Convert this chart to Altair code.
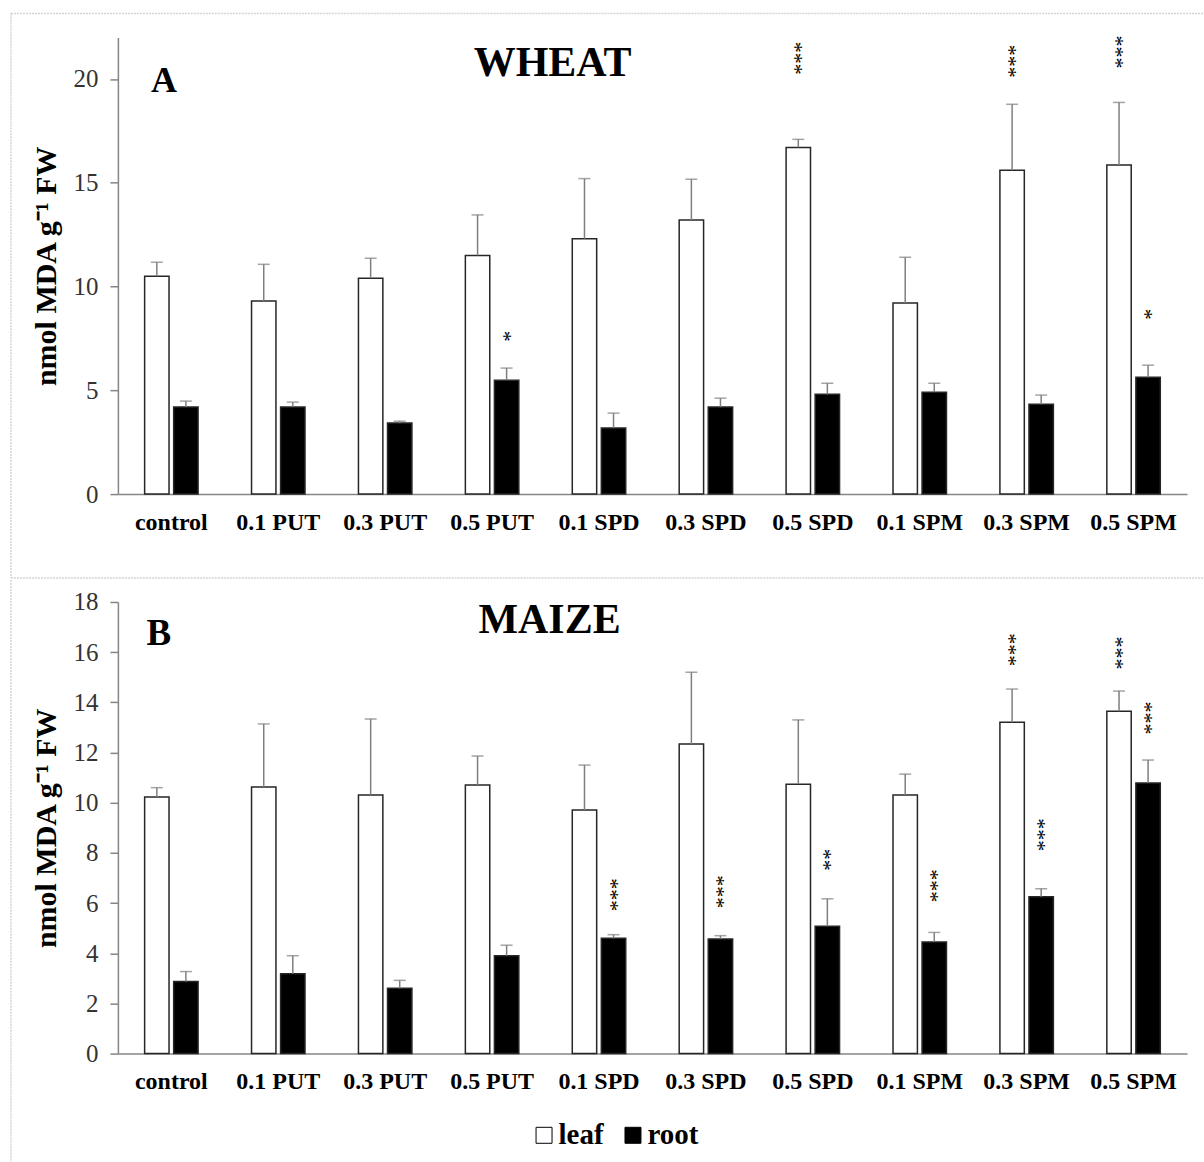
import altair as alt
import pandas as pd

SERIF = "Liberation Serif"

categories = ["control", "0.1 PUT", "0.3 PUT", "0.5 PUT", "0.1 SPD",
              "0.3 SPD", "0.5 SPD", "0.1 SPM", "0.3 SPM", "0.5 SPM"]
parts = ["leaf", "root"]

# Panel A - wheat
wheat_leaf = [10.5, 9.3, 10.4, 11.5, 12.3, 13.2, 16.7, 9.2, 15.6, 15.85]
wheat_leaf_err = [0.67, 1.77, 0.96, 1.95, 2.9, 1.97, 0.39, 2.21, 3.18, 3.02]
wheat_root = [4.19, 4.19, 3.42, 5.49, 3.18, 4.19, 4.81, 4.91, 4.33, 5.63]
wheat_root_err = [0.29, 0.24, 0.09, 0.58, 0.72, 0.43, 0.53, 0.43, 0.44, 0.58]
wheat_leaf_sig = ["", "", "", "", "", "", "***", "", "***", "***"]
wheat_leaf_sig_y = [0, 0, 0, 0, 0, 0, 21.0, 0, 20.85, 21.3]
wheat_root_sig = ["", "", "", "*", "", "", "", "", "", "*"]
wheat_root_sig_y = [0, 0, 0, 7.6, 0, 0, 0, 0, 0, 8.67]

# Panel B - maize
maize_leaf = [10.23, 10.63, 10.31, 10.71, 9.71, 12.34, 10.74, 10.31, 13.21, 13.65]
maize_leaf_err = [0.37, 2.51, 3.03, 1.15, 1.79, 2.86, 2.56, 0.83, 1.32, 0.8]
maize_root = [2.87, 3.18, 2.6, 3.9, 4.6, 4.57, 5.08, 4.45, 6.25, 10.79]
maize_root_err = [0.4, 0.72, 0.32, 0.42, 0.14, 0.13, 1.09, 0.38, 0.32, 0.91]
maize_leaf_sig = ["", "", "", "", "", "", "", "", "***", "***"]
maize_leaf_sig_y = [0, 0, 0, 0, 0, 0, 0, 0, 16.1, 15.97]
maize_root_sig = ["", "", "", "", "***", "***", "**", "***", "***", "***"]
maize_root_sig_y = [0, 0, 0, 0, 6.33, 6.45, 7.73, 6.69, 8.72, 13.38]

panel_names = ["WHEAT", "MAIZE"]
panel_letters = ["A", "B"]
y_titles = ["nmol MDA  g\u207b\u00b9 FW", "nmol MDA g\u207b\u00b9 FW"]

PLOT_W = 1070
GRAY = "#868686"


def rule(x, x2, y, y2):
    return alt.Chart(pd.DataFrame({"f": [0]})).mark_rule(
        color="#d4d4d4", strokeWidth=1.5, strokeDash=[2, 1]
    ).encode(x=alt.value(x), x2=alt.value(x2), y=alt.value(y), y2=alt.value(y2))


def panel(leaf, leaf_err, root, root_err, lsig, lsig_y, rsig, rsig_y,
          ymax, yticks, ytitle, name, letter, height, frames,
          name_pos, letter_pos, letter_size):
    rows, sig_rows = [], []
    for i, c in enumerate(categories):
        rows.append(dict(cat=c, part="leaf", val=leaf[i], top=leaf[i] + leaf_err[i]))
        rows.append(dict(cat=c, part="root", val=root[i], top=root[i] + root_err[i]))
        if lsig[i]:
            sig_rows.append(dict(cat=c, part="leaf", sig=lsig[i], sy=lsig_y[i]))
        if rsig[i]:
            sig_rows.append(dict(cat=c, part="root", sig=rsig[i], sy=rsig_y[i]))
    df = pd.DataFrame(rows)
    sdf = pd.DataFrame(sig_rows)

    x = alt.X("cat:N", sort=categories,
              scale=alt.Scale(paddingInner=0.5, paddingOuter=0.25),
              axis=alt.Axis(title=None, labelAngle=0, ticks=False,
                            labelFont=SERIF, labelFontWeight="bold",
                            labelFontSize=24, labelColor="black",
                            labelPadding=16, domainColor=GRAY, domainWidth=1.5))
    xo = alt.XOffset("part:N", sort=parts,
                     scale=alt.Scale(paddingInner=0.16, paddingOuter=0))
    yscale = alt.Scale(domain=[0, ymax], nice=False)
    yaxis = alt.Axis(values=yticks, title=ytitle, grid=False, tickSize=8,
                     tickColor=GRAY, tickWidth=1.5, domainColor=GRAY,
                     domainWidth=1.5, labelFont=SERIF, labelFontSize=25,
                     labelColor="#333333", labelPadding=12, titleFont=SERIF,
                     titleFontSize=30, titleFontWeight="bold",
                     titleColor="black", titlePadding=11)

    color = alt.Color("part:N", scale=alt.Scale(domain=parts, range=["white", "black"]),
                      legend=alt.Legend(title=None, orient="none", legendX=412,
                                        legendY=1084, direction="horizontal",
                                        symbolType="square", symbolSize=256,
                                        symbolStrokeColor="black",
                                        symbolStrokeWidth=1, labelFont=SERIF,
                                        labelFontSize=29, labelFontWeight="bold",
                                        labelColor="black", labelOffset=0,
                                        columnPadding=14, padding=0))

    bars = alt.Chart(df).mark_bar(stroke="#262626", strokeWidth=1.5).encode(
        x=x, xOffset=xo, y=alt.Y("val:Q", scale=yscale, axis=yaxis), color=color)
    errs = alt.Chart(df).mark_rule(color="#7f7f7f", strokeWidth=1.5).encode(
        x=x, xOffset=xo, y=alt.Y("val:Q", scale=yscale, axis=yaxis), y2="top:Q")
    caps = alt.Chart(df).mark_tick(color="#7f7f7f", thickness=1.5, size=12).encode(
        x=x, xOffset=xo, y=alt.Y("top:Q", scale=yscale, axis=yaxis))
    sigs = alt.Chart(sdf).mark_text(angle=90, font=SERIF, fontSize=22,
                                    color="black", dy=3).encode(
        x=x, xOffset=xo, y=alt.Y("sy:Q", scale=yscale, axis=yaxis), text="sig:N")
    ttl = alt.Chart(pd.DataFrame({"t": [name]})).mark_text(
        font=SERIF, fontSize=42, fontWeight="bold", baseline="alphabetic",
        align="center", color="black").encode(
        x=alt.value(name_pos[0]), y=alt.value(name_pos[1]), text="t:N")
    let = alt.Chart(pd.DataFrame({"t": [letter]})).mark_text(
        font=SERIF, fontSize=letter_size, fontWeight="bold", baseline="alphabetic",
        align="center", color="black").encode(
        x=alt.value(letter_pos[0]), y=alt.value(letter_pos[1]), text="t:N")

    layers = [rule(*f) for f in frames] + [bars, errs, caps, sigs, ttl, let]
    return alt.layer(*layers).properties(width=PLOT_W, height=height)


panelA = panel(wheat_leaf, wheat_leaf_err, wheat_root, wheat_root_err,
               wheat_leaf_sig, wheat_leaf_sig_y, wheat_root_sig, wheat_root_sig_y,
               22, [0, 5, 10, 15, 20], y_titles[0], panel_names[0], panel_letters[0],
               457,
               [(-107, 1086, -24, -24), (-107, -107, -24, 541), (-107, 1086, 541, 541)],
               (435, 39), (46, 55), 36)

panelB = panel(maize_leaf, maize_leaf_err, maize_root, maize_root_err,
               maize_leaf_sig, maize_leaf_sig_y, maize_root_sig, maize_root_sig_y,
               18, [0, 2, 4, 6, 8, 10, 12, 14, 16, 18], y_titles[1], panel_names[1],
               panel_letters[1], 452,
               [(-107, -107, -22, 561)],
               (432, 31), (41, 43), 37)

chart = alt.vconcat(panelA, panelB, spacing=0).properties(
    padding={"left": 10, "top": 12, "right": 0, "bottom": 0}
).configure_view(strokeWidth=0)

chart.save("out.html", embed_options={"renderer": "svg", "actions": False})
